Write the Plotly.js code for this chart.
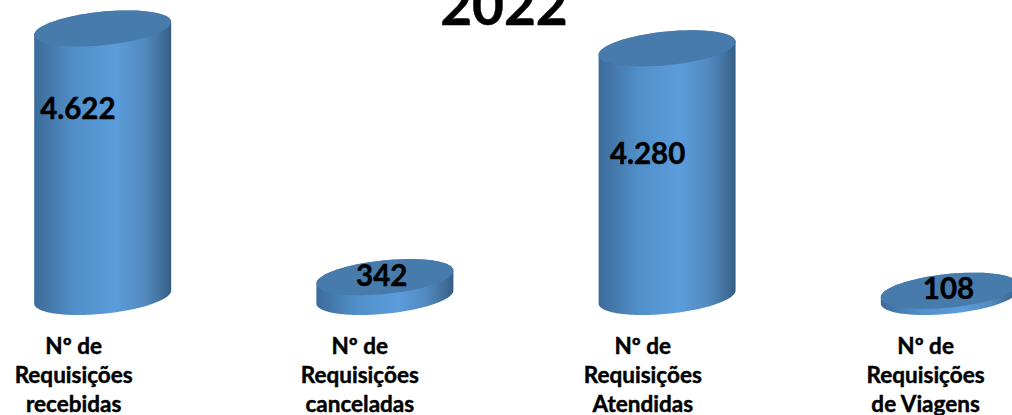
<!DOCTYPE html>
<html>
<head>
<meta charset="utf-8">
<script src="https://cdn.plot.ly/plotly-3.0.1.min.js"></script>
<style>
html,body{margin:0;padding:0;background:#fff;overflow:hidden}#c{width:1012px;height:415px}
#c svg text{stroke:#000;stroke-width:0.45px}
</style>
</head>
<body>
<div id="c"></div>
<script>
const titleText = '2022';
const categories = ['Nº de<br>Requisições<br>recebidas', 'Nº de<br>Requisições<br>canceladas', 'Nº de<br>Requisições<br>Atendidas', 'Nº de<br>Requisições<br>de Viagens'];
const values = [4622, 342, 4280, 108];
const valueLabels = ['4.622', '342', '4.280', '108'];
const valueLabelX = [-0.088, -0.011, -0.069, -0.003];
const valueLabelY = [3190, 310, 2420, 85];
const tickPositions = [-0.103, 0.911, 1.914, 2.916];

const FONT = 'Lato, "Open Sans", sans-serif';
const xHalf = 0.2427;     // half cylinder width in category units
const yHalf = 290;        // ellipse half height in value units
const yTilt = 112;        // tilt of the ellipse in value units
const N = 72;

function rim(cx, cy, from, to) {
  const xs = [], ys = [];
  for (let i = 0; i <= N; i++) {
    const t = from + (to - from) * i / N;
    xs.push(cx + xHalf * Math.cos(t));
    ys.push(cy + yTilt * Math.cos(t) + yHalf * Math.sin(t));
  }
  return [xs, ys];
}

const bodyScale = [[0, '#3a6b9b'], [0.12, '#467aac'], [0.3, '#5190ca'], [0.6, '#5b9cdb'], [0.8, '#538abf'], [0.93, '#42709d'], [1, '#355d84']];
const traces = [];
values.forEach((v, i) => {
  const low = rim(i, 0, Math.PI, 2 * Math.PI);
  const high = rim(i, v, 0, Math.PI);
  traces.push({
    x: low[0].concat(high[0]), y: low[1].concat(high[1]),
    mode: 'none', type: 'scatter', fill: 'toself', hoverinfo: 'skip', showlegend: false,
    fillgradient: {type: 'horizontal', colorscale: bodyScale}
  });
  const top = rim(i, v, 0, 2 * Math.PI);
  traces.push({
    x: top[0], y: top[1], mode: 'none', type: 'scatter', fill: 'toself',
    fillcolor: '#467bab', hoverinfo: 'skip', showlegend: false
  });
});
traces.push({
  x: values.map((v, i) => i + valueLabelX[i]),
  y: valueLabelY,
  text: valueLabels, mode: 'text', type: 'scatter', showlegend: false, hoverinfo: 'skip',
  textposition: 'middle center',
  textfont: {family: FONT, size: 29.5, color: '#000', weight: 700}
});

Plotly.newPlot('c', traces, {
  width: 1012, height: 415,
  margin: {l: 0, r: 0, t: 0, b: 95, pad: 0},
  paper_bgcolor: '#fff', plot_bgcolor: 'rgba(0,0,0,0)',
  showlegend: false,
  title: {text: titleText, font: {family: FONT, size: 55, color: '#000', weight: 700},
          x: 0.498, xanchor: 'center', xref: 'paper', y: 0.985, yanchor: 'middle', yref: 'container'},
  xaxis: {
    range: [-0.3639, 3.2222], showgrid: false, zeroline: false, showline: false,
    tickmode: 'array', tickvals: tickPositions, ticktext: categories, ticks: '', ticklabelstandoff: 10,
    tickfont: {family: FONT, size: 22.5, color: '#000', weight: 700}, automargin: false
  },
  yaxis: {range: [-396, 5112], visible: false, showgrid: false, zeroline: false}
}, {displayModeBar: false, staticPlot: true});
</script>
</body>
</html>
